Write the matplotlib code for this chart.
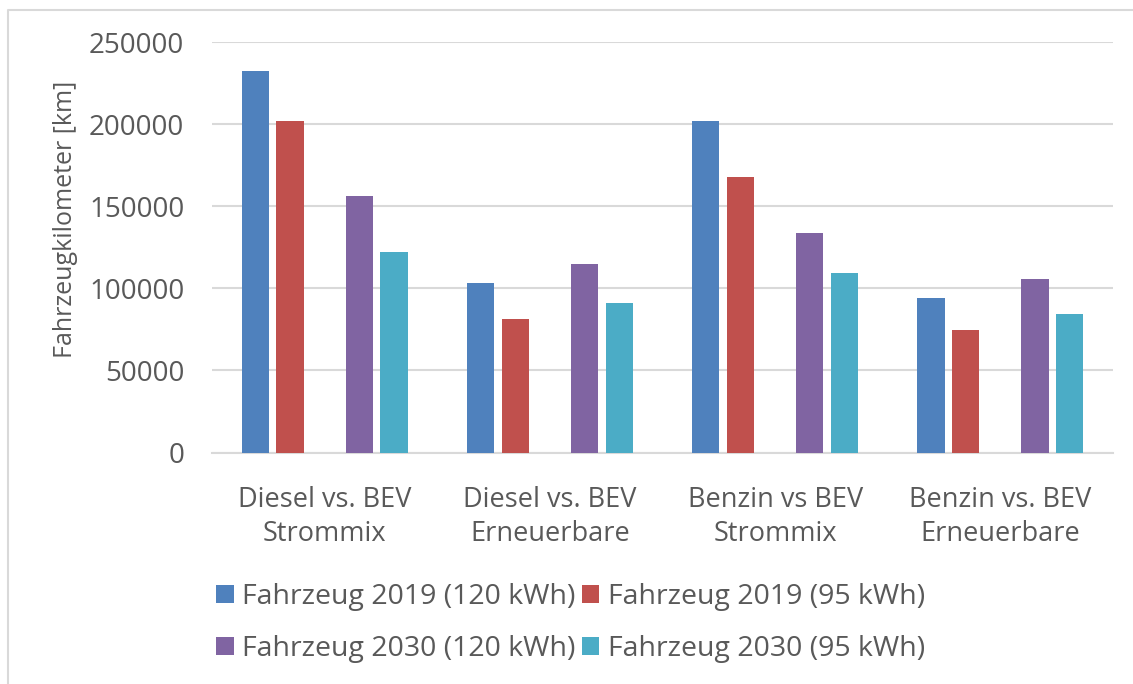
import matplotlib.pyplot as plt
import matplotlib.lines as mlines
import numpy as np

categories = ['Diesel vs. BEV\nStrommix', 'Diesel vs. BEV\nErneuerbare',
              'Benzin vs BEV\nStrommix', 'Benzin vs. BEV\nErneuerbare']
series_names = ['Fahrzeug 2019 (120 kWh)', 'Fahrzeug 2019 (95 kWh)',
                'Fahrzeug 2030 (120 kWh)', 'Fahrzeug 2030 (95 kWh)']
v2019_120 = [232300, 103000, 202200, 94100]
v2019_95 = [202200, 81300, 167900, 74800]
v2030_120 = [156500, 114800, 133700, 105700]
v2030_95 = [122100, 91000, 109300, 84300]
colors = ['#4F81BD', '#C0504D', '#8064A2', '#4BACC6']

text_color = '#595959'
grid_color = '#D9D9D9'
plt.rcParams['font.family'] = ['Open Sans', 'DejaVu Sans']

W, H = 1133, 684
fig = plt.figure(figsize=(W / 100, H / 100), dpi=100)
ax = fig.add_axes([212 / W, 1 - 452.5 / H, (1113 - 212) / W, (452.5 - 42.3) / H])

x = np.arange(len(categories))
pitch = 0.154
width = 0.121
# five slots per category, the middle one stays empty
offsets = [-2 * pitch, -pitch, pitch, 2 * pitch]
handles = []
for vals, off, col, name in zip([v2019_120, v2019_95, v2030_120, v2030_95],
                                offsets, colors, series_names):
    b = ax.bar(x + off, vals, width, color=col, label=name, zorder=3)
    handles.append(b)

ax.set_xlim(-0.5, len(categories) - 0.5)
ax.set_ylim(0, 250000)
ax.set_yticks(np.arange(0, 250001, 50000))
ax.set_xticks(x)
ax.set_xticklabels(categories, fontsize=19.5, color=text_color, linespacing=1.3)
ax.tick_params(axis='y', length=0, pad=20, labelsize=20, labelcolor=text_color)
ax.tick_params(axis='x', length=0, pad=24)
ax.grid(axis='y', color=grid_color, linewidth=1.5, zorder=0)
for s in ['top', 'right', 'left']:
    ax.spines[s].set_visible(False)
ax.spines['bottom'].set_color(grid_color)
ax.spines['bottom'].set_linewidth(1.5)

fig.text(66 / W, 1 - 219 / H, 'Fahrzeugkilometer [km]', rotation=90,
         ha='center', va='center', fontsize=18, color=text_color)

order = [0, 2, 1, 3]
leg = fig.legend([handles[i] for i in order], [series_names[i] for i in order],
                 ncol=2, loc='center left', bbox_to_anchor=(216 / W, 1 - 623 / H),
                 frameon=False, fontsize=20.5, labelcolor=text_color,
                 handlelength=0.62, handleheight=0.62, handletextpad=0.3,
                 columnspacing=0.22, labelspacing=0.85, borderpad=0, borderaxespad=0)

# chart area border (cropped at right and bottom)
fig.add_artist(mlines.Line2D([7.5 / W, 7.5 / W, 1], [0, 1 - 10 / H, 1 - 10 / H],
                             color=grid_color, linewidth=1.5))

fig.savefig('out.png', dpi=100)
